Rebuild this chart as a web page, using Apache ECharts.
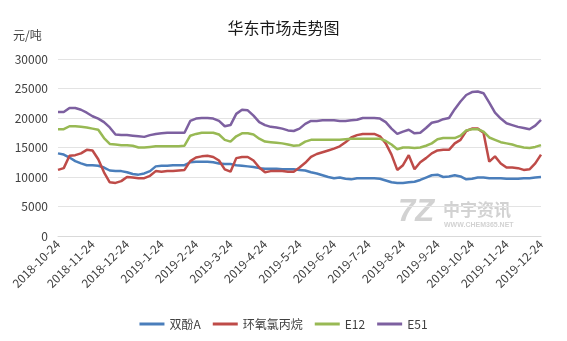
<!DOCTYPE html>
<html>
<head>
<meta charset="utf-8">
<script src="https://cdn.jsdelivr.net/npm/echarts@6/dist/echarts.min.js"></script>
<style>
  html, body { margin: 0; padding: 0; background: #fff; }
  #chart { width: 567px; height: 341px; }
</style>
</head>
<body>
<div id="chart"></div>
<script>
// Month tick labels (one every 6 samples)
const tickLabels = ['2018-10-24','2018-11-24','2018-12-24','2019-1-24','2019-2-24','2019-3-24','2019-4-24',
  '2019-5-24','2019-6-24','2019-7-24','2019-8-24','2019-9-24','2019-10-24','2019-11-24','2019-12-24'];
const samplesPerMonth = 6;

// Prices, yuan per ton, sampled 6 times per month
const bpa = [14000,13800,13300,12700,12300,12000,12000,11900,11600,11100,11000,11000,10800,10500,10400,10600,
  11000,11800,11900,11900,12000,12000,12000,12500,12600,12600,12600,12500,12300,12200,12200,12000,11900,11800,
  11700,11500,11400,11400,11400,11300,11300,11300,11200,11100,10800,10600,10300,10000,9800,9900,9700,9600,9800,
  9800,9800,9800,9700,9400,9100,9000,9000,9100,9200,9500,9900,10300,10400,10000,10100,10300,10100,9600,9700,
  9900,9900,9800,9800,9800,9700,9700,9700,9800,9800,9900,10000];
const ech = [11200,11500,13600,13700,14000,14600,14500,13000,10800,9100,9000,9300,10000,9900,9800,9800,10200,
  11000,10900,11000,11000,11100,11200,12700,13300,13500,13600,13400,12800,11300,10900,13200,13400,13400,12800,
  11600,10800,11000,11000,11000,10900,10900,11600,12400,13400,13900,14200,14500,14800,15200,15900,16700,17100,
  17300,17300,17300,16900,15700,13800,11200,12000,13700,11300,12500,13200,14000,14500,14600,14600,15700,16300,
  17800,18200,18200,17500,12600,13500,12300,11600,11600,11500,11200,11300,12300,13800];
const e12 = [18100,18100,18600,18600,18500,18400,18200,18000,16600,15600,15500,15400,15400,15300,15000,15000,
  15100,15200,15200,15200,15200,15200,15300,17000,17300,17500,17500,17500,17200,16300,16000,16900,17400,17400,
  17200,16500,16000,15900,15800,15700,15500,15300,15400,16000,16300,16300,16300,16300,16300,16300,16400,16500,
  16500,16500,16500,16500,16500,16100,15500,14700,15000,15000,14900,15000,15300,15700,16400,16600,16600,16600,
  17000,17900,18100,18100,17700,16700,16300,15900,15700,15500,15200,15000,14900,15100,15400];
const e51 = [21000,21000,21700,21700,21400,20900,20300,19900,19300,18400,17200,17100,17100,17000,16900,16800,
  17100,17300,17400,17500,17500,17500,17500,19500,19900,20000,20000,19900,19500,18600,18800,20700,21400,21300,
  20400,19300,18800,18500,18400,18200,17900,17800,18200,19000,19500,19500,19600,19600,19600,19500,19500,19600,
  19700,20000,20000,20000,19900,19300,18200,17300,17700,18000,17400,17500,18300,19200,19400,19800,20000,21500,
  22800,23900,24400,24500,24200,22600,20900,19900,19100,18800,18500,18300,18100,18700,19700];

const seriesNames = ['双酚A', '环氧氯丙烷', 'E12', 'E51'];
const seriesColors = ['#4a7ebb', '#be4b48', '#98b954', '#7d60a0'];

// Category axis: a date for every sample, month labels on every 6th one
function buildCategories() {
  const cats = [];
  for (let i = 0; i < tickLabels.length; i++) {
    const [y, m, d] = tickLabels[i].split('-').map(Number);
    const steps = i === tickLabels.length - 1 ? 1 : samplesPerMonth;
    for (let j = 0; j < steps; j++) {
      if (j === 0) { cats.push(tickLabels[i]); continue; }
      const dt = new Date(y, m - 1, d + j * 5);
      cats.push(dt.getFullYear() + '-' + (dt.getMonth() + 1) + '-' + dt.getDate());
    }
  }
  return cats;
}
const categories = buildCategories();

const FONT = '"Noto Sans CJK SC", "Noto Sans", sans-serif';
const chart = echarts.init(document.getElementById('chart'), null, { renderer: 'canvas' });

const data = [bpa, ech, e12, e51];
chart.setOption({
  animation: false,
  backgroundColor: '#ffffff',
  textStyle: { fontFamily: FONT },
  title: [
    { text: '华东市场走势图', left: 'center', top: 15,
      textStyle: { fontSize: 16, fontWeight: 'normal', color: '#1a1a1a', fontFamily: FONT } },
    { text: '元/吨', left: 8, top: 24,
      textStyle: { fontSize: 12, fontWeight: 'normal', color: '#404040', fontFamily: FONT } }
  ],
  grid: { left: 58, right: 26, top: 59, bottom: 105, containLabel: false },
  legend: {
    bottom: 6, left: 'center',
    itemWidth: 25, itemHeight: 3, itemGap: 12,
    icon: 'rect',
    textStyle: { fontSize: 12, color: '#404040', fontFamily: FONT },
    data: seriesNames
  },
  xAxis: {
    type: 'category',
    boundaryGap: false,
    data: categories,
    axisLine: { show: true, lineStyle: { color: '#d9d9d9', width: 1 } },
    axisTick: { show: false },
    axisLabel: {
      interval: samplesPerMonth - 1,
      rotate: 45,
      margin: 6,
      fontSize: 12,
      color: '#404040',
      fontFamily: FONT
    }
  },
  yAxis: {
    type: 'value',
    min: 0, max: 30000, interval: 5000,
    axisLine: { show: false },
    axisTick: { show: false },
    splitLine: { lineStyle: { color: '#e3e3e3', width: 1 } },
    axisLabel: { fontSize: 12, color: '#404040', margin: 10, fontFamily: FONT,
      formatter: v => String(v) }
  },
  graphic: [
    { type: 'text', left: 398, top: 197, silent: true,
      style: { text: '7Z', font: 'italic bold 31px "Liberation Sans", sans-serif', fill: '#d2d2d2' } },
    { type: 'text', left: 443, top: 201, silent: true,
      style: { text: '中宇资讯', font: 'bold 17px "Noto Sans CJK SC", sans-serif', fill: '#d2d2d2' } },
    { type: 'text', left: 444, top: 222, silent: true,
      style: { text: 'WWW.CHEM365.NET', font: 'bold 7px "Liberation Sans", sans-serif', fill: '#d2d2d2' } }
  ],
  series: seriesNames.map((name, i) => ({
    name: name,
    type: 'line',
    data: data[i],
    showSymbol: false,
    symbol: 'none',
    smooth: false,
    lineStyle: { width: 2.5, color: seriesColors[i] },
    itemStyle: { color: seriesColors[i] },
    z: 2 + i
  }))
});
</script>
</body>
</html>
